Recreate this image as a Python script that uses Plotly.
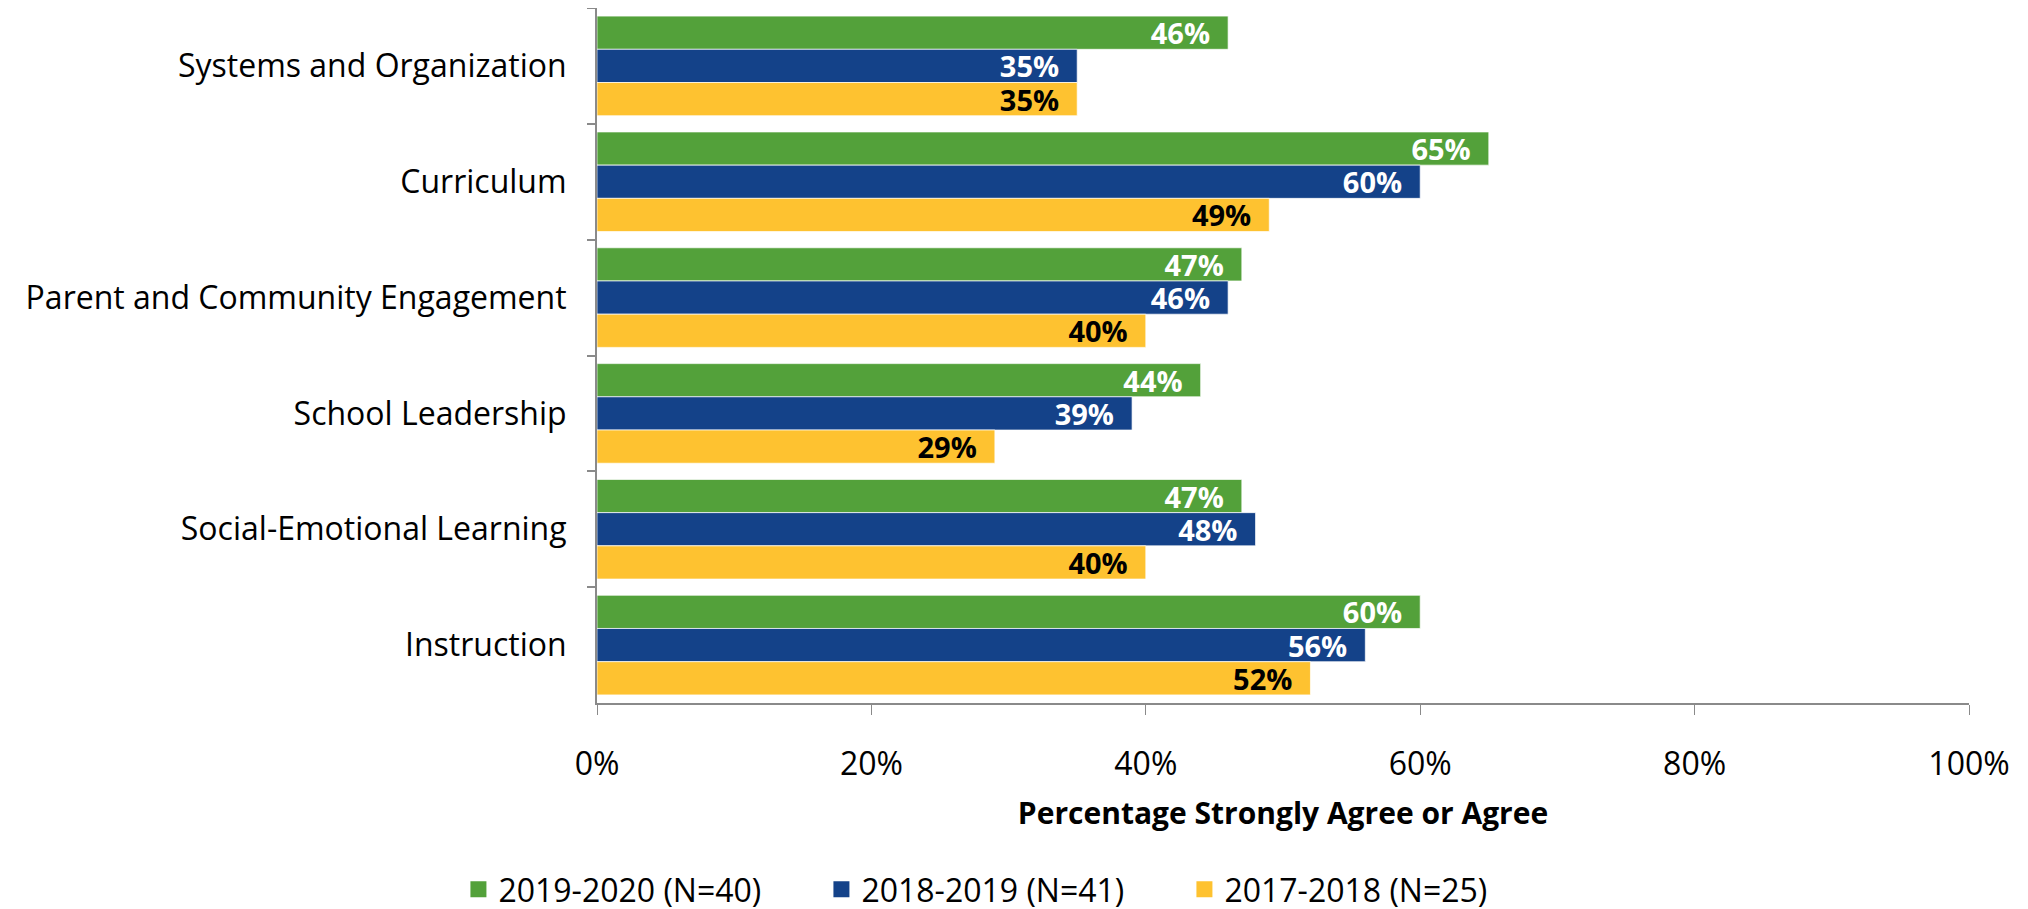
import plotly.graph_objects as go

CATEGORIES = [
    "Systems and Organization",
    "Curriculum",
    "Parent and Community Engagement",
    "School Leadership",
    "Social-Emotional Learning",
    "Instruction",
]

SERIES_NAMES = ["2019-2020 (N=40)", "2018-2019 (N=41)", "2017-2018 (N=25)"]
VALUES_2019_2020 = [0.46, 0.65, 0.47, 0.44, 0.47, 0.60]
VALUES_2018_2019 = [0.35, 0.60, 0.46, 0.39, 0.48, 0.56]
VALUES_2017_2018 = [0.35, 0.49, 0.40, 0.29, 0.40, 0.52]

COLORS = ["#53a13a", "#144289", "#fec230"]
LABEL_COLORS = ["white", "white", "black"]

FONT = "Open Sans, sans-serif"
AXIS_COLOR = "#8a8a8a"

fig = go.Figure()
for name, values, color, label_color in zip(
    SERIES_NAMES,
    [VALUES_2019_2020, VALUES_2018_2019, VALUES_2017_2018],
    COLORS,
    LABEL_COLORS,
):
    fig.add_trace(
        go.Bar(
            x=values,
            y=CATEGORIES,
            name=name,
            legendgroup=name,
            showlegend=False,
            orientation="h",
            marker={"color": color, "line": {"color": "rgba(255,255,255,0.7)", "width": 1}},
            texttemplate="<b>%{x:.0%}</b>\u00a0\u00a0",
            textposition="inside",
            insidetextanchor="end",
            constraintext="none",
            textfont={"family": FONT, "size": 29, "color": label_color},
        )
    )

# legend-only entries so the swatches come out larger than plotly's bar icon
for name, color in zip(SERIES_NAMES, COLORS):
    fig.add_trace(
        go.Scatter(
            x=[None],
            y=[None],
            mode="markers",
            name=name,
            legendgroup=name,
            marker={"symbol": "square", "size": 16, "color": color},
        )
    )

# the page body adds an 8px offset, so margins are shifted to compensate
fig.update_layout(
    width=2028,
    height=909,
    barmode="group",
    bargap=0.14,
    bargroupgap=0,
    paper_bgcolor="white",
    plot_bgcolor="white",
    font={"family": FONT, "color": "black", "size": 32},
    margin={"l": 589, "r": 67, "t": 0, "b": 214},
    legend={
        "orientation": "h",
        "x": -0.101,
        "xanchor": "left",
        "y": -0.269,
        "yanchor": "middle",
        "font": {"size": 32},
        "entrywidth": 318,
        "entrywidthmode": "pixels",
    },
)
fig.update_xaxes(
    range=[0, 1],
    dtick=0.2,
    tickformat=".0%",
    showgrid=False,
    zeroline=False,
    showline=True,
    linecolor=AXIS_COLOR,
    linewidth=2,
    ticks="outside",
    ticklen=10,
    tickcolor=AXIS_COLOR,
    tickwidth=1,
    ticklabelstandoff=22,
    tickfont={"size": 32},
    title={"text": "<b>Percentage Strongly Agree or Agree</b>", "font": {"size": 30}, "standoff": 20},
)
fig.update_yaxes(
    autorange="reversed",
    showgrid=False,
    showline=True,
    linecolor=AXIS_COLOR,
    linewidth=2,
    ticks="outside",
    tickson="boundaries",
    ticklen=8,
    tickcolor=AXIS_COLOR,
    tickwidth=2,
    ticklabelstandoff=22,
    tickfont={"size": 32},
)

fig.write_html("out.html")
